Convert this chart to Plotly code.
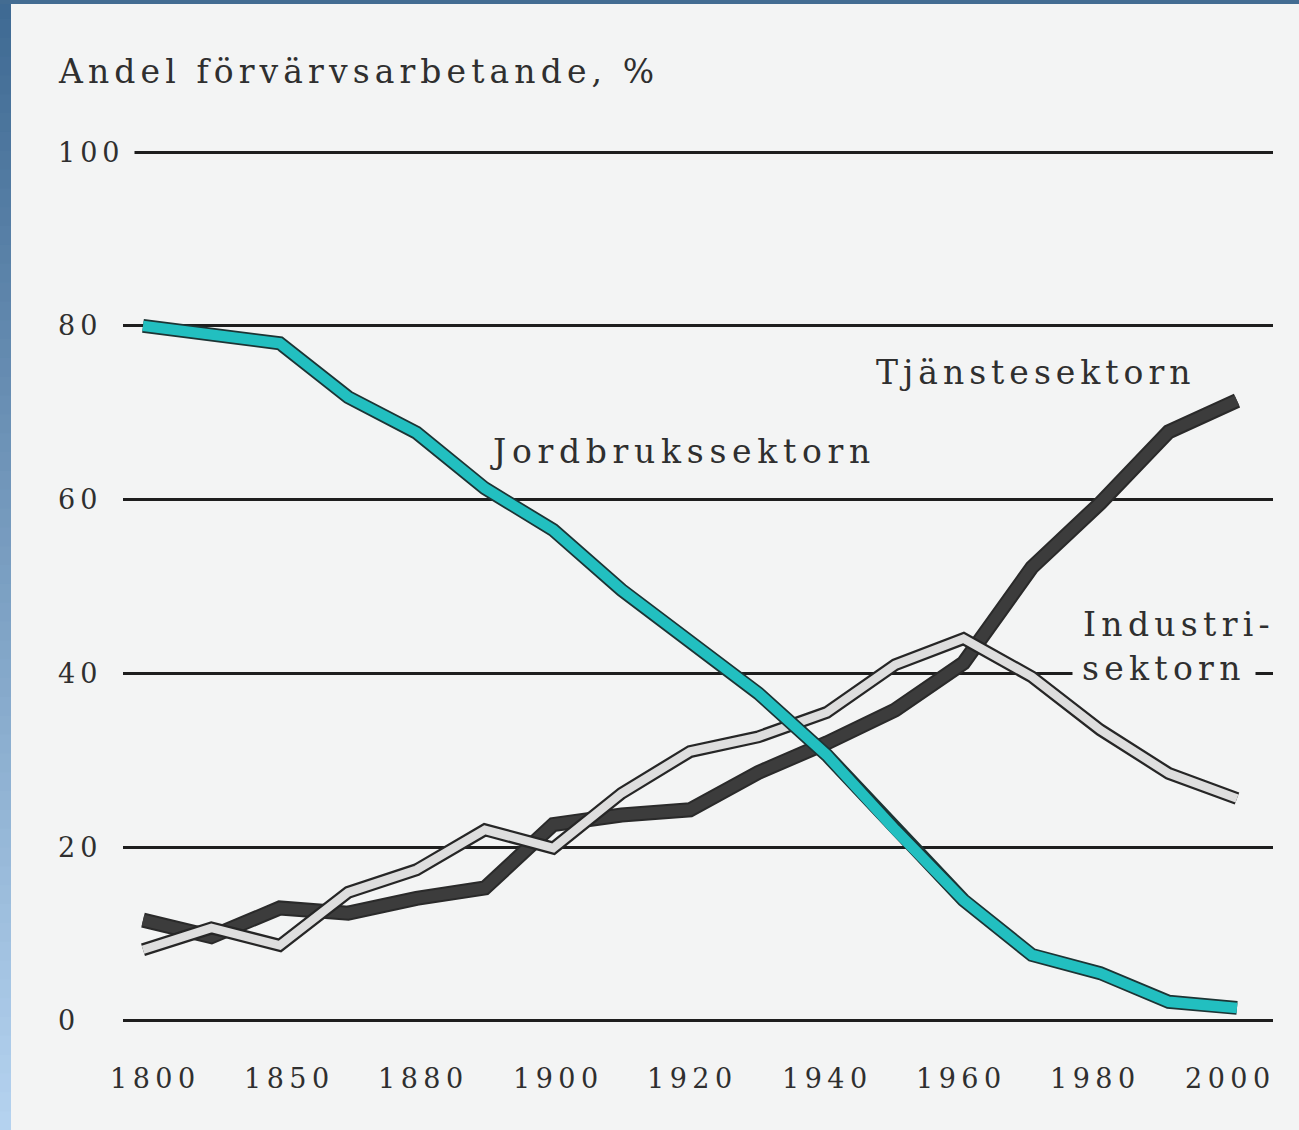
import plotly.graph_objects as go

# ---- data ----
years = ["1800", "1825", "1850", "1865", "1880", "1890", "1900", "1910", "1920",
         "1930", "1940", "1950", "1960", "1970", "1980", "1990", "2000"]
jordbruk = [80, 79, 78, 71.8, 67.7, 61.3, 56.5, 49.6, 43.5, 37.7, 30.6, 22, 13.9, 7.6, 5.5, 2.2, 1.5]
tjanste = [11.6, 9.7, 13, 12.4, 14.1, 15.3, 22.6, 23.7, 24.3, 28.6, 32, 35.8, 41.2, 52.2, 59.6, 67.8, 71.4]
industri = [8.2, 10.7, 8.7, 14.8, 17.4, 22, 19.9, 26.2, 31, 32.7, 35.5, 41, 44, 39.6, 33.5, 28.5, 25.6]
x_tick_years = ["1800", "1850", "1880", "1900", "1920", "1940", "1960", "1980", "2000"]
y_ticks = [0, 20, 40, 60, 80, 100]

title_text = "Andel förvärvsarbetande, %"
lab_jord = "Jordbrukssektorn"
lab_tj = "Tjänstesektorn"
lab_ind1 = "Industri-"
lab_ind2 = "sektorn"

# ---- style ----
W, H = 1299, 1130
ML, MR, MT, MB = 123, 26, 126, 83
PW = W - ML - MR
PH = H - MT - MB
BG = "#f3f4f4"
TXT = "#2f2f2f"
FONT = "DejaVu Serif"


def sp(t, ls):
    return f'<span style="letter-spacing:{ls}px">{t}</span>'


def px2paper_x(px):
    return (px - ML) / PW


def px2paper_y(py):
    return (H - MB - py) / PH


fig = go.Figure()

# Tjänstesektorn (dark)
fig.add_trace(go.Scatter(x=years, y=tjanste, mode="lines",
                         line=dict(color="#2a2a2a", width=15), hoverinfo="skip"))
fig.add_trace(go.Scatter(x=years, y=tjanste, mode="lines",
                         line=dict(color="#3c3c3c", width=11), hoverinfo="skip"))
# Industrisektorn (light with dark edge)
fig.add_trace(go.Scatter(x=years, y=industri, mode="lines",
                         line=dict(color="#262626", width=13), hoverinfo="skip"))
fig.add_trace(go.Scatter(x=years, y=industri, mode="lines",
                         line=dict(color="#dedede", width=8.5), hoverinfo="skip"))
# Jordbrukssektorn (cyan with dark edge)
fig.add_trace(go.Scatter(x=years, y=jordbruk, mode="lines",
                         line=dict(color="#1c3434", width=14), hoverinfo="skip"))
fig.add_trace(go.Scatter(x=years, y=jordbruk, mode="lines",
                         line=dict(color="#22bfc0", width=10.5), hoverinfo="skip"))

annotations = []
# y tick labels (cover gridline start)
for v in y_ticks:
    annotations.append(dict(
        x=px2paper_x(58 - 10), xref="paper", y=v, yref="y",
        xanchor="left", yanchor="middle", showarrow=False,
        text=sp(str(v), 5), font=dict(family=FONT, size=27, color=TXT),
        bgcolor=BG, borderpad=9))
# x tick labels
for k, yr in enumerate(x_tick_years):
    annotations.append(dict(
        x=years.index(yr), xref="x", y=px2paper_y(1078), yref="paper",
        xanchor="center", yanchor="middle", showarrow=False,
        xshift=12 - 2.35 * k,
        text=sp(yr, 5.5), font=dict(family=FONT, size=27, color=TXT)))

# title
annotations.append(dict(
    x=px2paper_x(56), xref="paper", y=px2paper_y(72), yref="paper",
    xanchor="left", yanchor="middle", showarrow=False,
    text=sp(title_text, 5.1), font=dict(family=FONT, size=33, color=TXT)))

# series labels
annotations.append(dict(
    x=5.05, xref="x", y=65.5, yref="y", xanchor="left", yanchor="middle",
    showarrow=False, text=sp(lab_jord, 5.7), font=dict(family=FONT, size=33, color=TXT)))
annotations.append(dict(
    x=10.69, xref="x", y=74.6, yref="y", xanchor="left", yanchor="middle",
    showarrow=False, text=sp(lab_tj, 5.0), font=dict(family=FONT, size=33, color=TXT)))
annotations.append(dict(
    x=13.72, xref="x", y=45.6, yref="y", xanchor="left", yanchor="middle",
    showarrow=False, text=sp(lab_ind1, 5.3), font=dict(family=FONT, size=33, color=TXT)))
annotations.append(dict(
    x=13.59, xref="x", y=40.6, yref="y", xanchor="left", yanchor="middle",
    showarrow=False, text=sp(lab_ind2, 5.3), font=dict(family=FONT, size=33, color=TXT),
    bgcolor=BG, borderpad=9))

# blue frame (left gradient strip + top band)
shapes = []
top_c = (0x3f, 0x6a, 0x93)
bot_c = (0xb4, 0xd2, 0xef)
N = 60
for i in range(N):
    t = i / (N - 1)
    c = tuple(int(round(top_c[k] + (bot_c[k] - top_c[k]) * t)) for k in range(3))
    y0p = H * i / N
    y1p = H * (i + 1) / N + 1
    shapes.append(dict(type="rect", xref="paper", yref="paper",
                       x0=px2paper_x(0), x1=px2paper_x(11),
                       y0=px2paper_y(y1p), y1=px2paper_y(y0p),
                       fillcolor="rgb(%d,%d,%d)" % c, line=dict(width=0), layer="above"))
shapes.append(dict(type="rect", xref="paper", yref="paper",
                   x0=px2paper_x(0), x1=px2paper_x(W),
                   y0=px2paper_y(4), y1=px2paper_y(0),
                   fillcolor="#436c92", line=dict(width=0), layer="above"))

fig.update_layout(
    width=W, height=H,
    margin=dict(l=ML, r=MR, t=MT, b=MB),
    paper_bgcolor=BG, plot_bgcolor=BG,
    showlegend=False, hovermode=False,
    annotations=annotations, shapes=shapes,
    xaxis=dict(type="category", categoryorder="array", categoryarray=years,
               range=[-0.2925, 16.5265], showgrid=False, zeroline=False,
               showticklabels=False, showline=False, ticks=""),
    yaxis=dict(range=[-3, 103], tickmode="array", tickvals=y_ticks,
               showgrid=True, gridcolor="#1e1e1e", gridwidth=2.5,
               zeroline=False, showticklabels=False, showline=False, ticks=""),
)

fig.write_html(
    "out.html",
    config={"displayModeBar": False},
    post_script="document.body.style.margin='0';document.body.style.overflow='hidden';",
)
